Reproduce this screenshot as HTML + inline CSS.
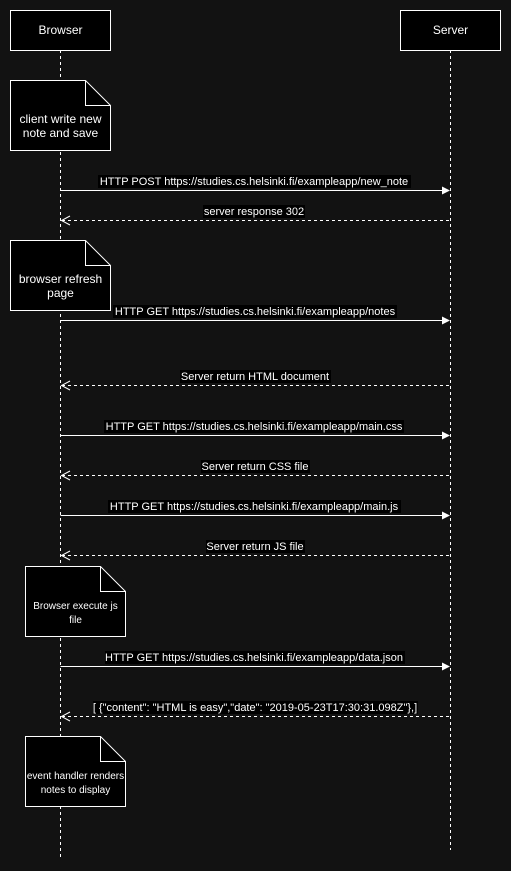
<!DOCTYPE html>
<html><head><style>
html,body{margin:0;padding:0;background:#121212;}
svg{display:block;}
text{font-family:"Liberation Sans",Arial,sans-serif;fill:#fff;}
</style></head><body>
<svg width="511" height="871" viewBox="0 0 511 871" xmlns="http://www.w3.org/2000/svg">
<rect width="511" height="871" fill="#121212"/>
<line x1="60.5" y1="50" x2="60.5" y2="858" stroke="#fff" stroke-dasharray="3,3"/>
<line x1="450.5" y1="50" x2="450.5" y2="850" stroke="#fff" stroke-dasharray="3,3"/>
<rect x="10.5" y="10.5" width="100" height="40" fill="#000" stroke="#fff"/>
<text x="60.5" y="34" font-size="12" text-anchor="middle">Browser</text>
<rect x="400.5" y="10.5" width="100" height="40" fill="#000" stroke="#fff"/>
<text x="450.5" y="34" font-size="12" text-anchor="middle">Server</text>

<g stroke="#fff" fill="#000">
<path d="M10.5 80.5H85.5L110.5 105.5V150.5H10.5Z"/><path d="M85.5 80.5V105.5H110.5" fill="none"/>
<path d="M10.5 240.5H85.5L110.5 265.5V310.5H10.5Z"/><path d="M85.5 240.5V265.5H110.5" fill="none"/>
<path d="M25.5 566.5H100.5L125.5 591.5V636.5H25.5Z"/><path d="M100.5 566.5V591.5H125.5" fill="none"/>
<path d="M25.5 736.5H100.5L125.5 761.5V806.5H25.5Z"/><path d="M100.5 736.5V761.5H125.5" fill="none"/>
</g>
<g font-size="12" text-anchor="middle">
<text x="60.5" y="123">client write new</text><text x="60.5" y="137">note and save</text>
<text x="60.5" y="283">browser refresh</text><text x="60.5" y="297">page</text>
</g>
<g font-size="10" text-anchor="middle">
<text x="75.5" y="609">Browser execute js</text><text x="75.5" y="623">file</text>
<text x="75.5" y="779">event handler renders</text><text x="75.5" y="793">notes to display</text>
</g>

<g stroke="#fff" fill="none">
<line x1="60.5" y1="190.5" x2="444" y2="190.5"/>
<line x1="60.5" y1="320.5" x2="444" y2="320.5"/>
<line x1="60.5" y1="435.5" x2="444" y2="435.5"/>
<line x1="60.5" y1="515.5" x2="444" y2="515.5"/>
<line x1="60.5" y1="666.5" x2="444" y2="666.5"/>
<g stroke-dasharray="3,3">
<line x1="62" y1="220.5" x2="450.5" y2="220.5"/>
<line x1="62" y1="385.5" x2="450.5" y2="385.5"/>
<line x1="62" y1="475.5" x2="450.5" y2="475.5"/>
<line x1="62" y1="555.5" x2="450.5" y2="555.5"/>
<line x1="62" y1="716.5" x2="450.5" y2="716.5"/>
</g>
<g>
<path d="M70 216L61.5 220.5L70 225"/><path d="M70 381L61.5 385.5L70 390"/><path d="M70 471L61.5 475.5L70 480"/><path d="M70 551L61.5 555.5L70 560"/><path d="M70 712L61.5 716.5L70 721"/>
</g>
</g>
<g fill="#fff">
<path d="M442 186.5L450 190.5L442 194.5Z"/><path d="M442 316.5L450 320.5L442 324.5Z"/><path d="M442 431.5L450 435.5L442 439.5Z"/><path d="M442 511.5L450 515.5L442 519.5Z"/><path d="M442 662.5L450 666.5L442 670.5Z"/>
</g>

<g font-size="11" text-anchor="middle">
<rect x="98" y="175" width="313" height="13" fill="#000"/><text x="254" y="185">HTTP POST https://studies.cs.helsinki.fi/exampleapp/new_note</text>
<rect x="203" y="205" width="102" height="13" fill="#000"/><text x="254" y="215">server response 302</text>
<rect x="113" y="305" width="284" height="13" fill="#000"/><text x="255" y="315">HTTP GET https://studies.cs.helsinki.fi/exampleapp/notes</text>
<rect x="180" y="370" width="151" height="13" fill="#000"/><text x="255" y="380">Server return HTML document</text>
<rect x="104" y="420" width="300" height="13" fill="#000"/><text x="254" y="430">HTTP GET https://studies.cs.helsinki.fi/exampleapp/main.css</text>
<rect x="201" y="460" width="109" height="13" fill="#000"/><text x="255" y="470">Server return CSS file</text>
<rect x="108" y="500" width="293" height="13" fill="#000"/><text x="254" y="510">HTTP GET https://studies.cs.helsinki.fi/exampleapp/main.js</text>
<rect x="206" y="540" width="99" height="13" fill="#000"/><text x="255" y="550">Server return JS file</text>
<rect x="105" y="651" width="300" height="13" fill="#000"/><text x="254" y="661">HTTP GET https://studies.cs.helsinki.fi/exampleapp/data.json</text>
<rect x="93" y="701" width="325" height="13" fill="#000"/><text x="255" y="711">[ {"content": "HTML is easy","date": "2019-05-23T17:30:31.098Z"},]</text>
</g>
</svg>
</body></html>
